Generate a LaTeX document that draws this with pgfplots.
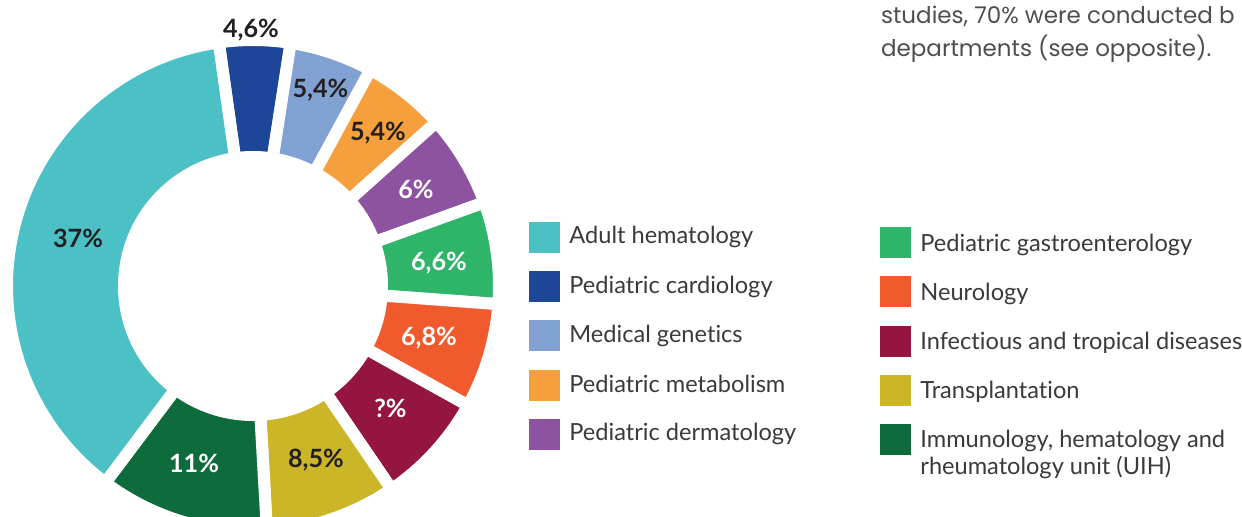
\documentclass[border=0pt]{standalone}
\usepackage{pgfplots}
\pgfplotsset{compat=1.18}
\usepackage{pgfplotstable}
\usepackage{fontspec}
\setmainfont{Lato}[Ligatures={NoCommon}]
\newfontfamily\topfont{Poppins}[Ligatures={NoCommon}]
\definecolor{c0}{HTML}{1D4598}% Pediatric cardiology
\definecolor{c1}{HTML}{82A1D3}% Medical genetics
\definecolor{c2}{HTML}{F69F3D}% Pediatric metabolism
\definecolor{c3}{HTML}{8D53A1}% Pediatric dermatology
\definecolor{c4}{HTML}{2EB56A}% Pediatric gastroenterology
\definecolor{c5}{HTML}{F15A2C}% Neurology
\definecolor{c6}{HTML}{94153F}% Infectious and tropical diseases
\definecolor{c7}{HTML}{CBB628}% Transplantation
\definecolor{c8}{HTML}{0D6B3C}% UIH
\definecolor{c9}{HTML}{4BC1C6}% Adult hematology
\definecolor{txt}{HTML}{3A3A3A}
\definecolor{lab}{HTML}{231F20}
% shares in percent, clockwise from the top ("?%")
\pgfplotstableread{
value
4.6
5.4
5.4
6
6.6
6.8
7.3
8.5
11
37
}\donut
\begin{document}
\begin{tikzpicture}
\begin{axis}[
  scale only axis, width=621pt, height=258pt,
  xmin=0, xmax=1242, ymin=0, ymax=516,
  hide axis, clip=true,
]
\pgfmathsetmacro\total{98.6}
\pgfmathsetmacro\k{360/\total}
\pgfmathsetmacro\cum{0}
\pgfplotsinvokeforeach{0,...,9}{%
  \pgfplotstablegetelem{#1}{value}\of\donut
  \pgfmathsetmacro\aS{98-\cum*\k}
  \pgfmathsetmacro\cum{\cum+\pgfplotsretval}
  \pgfmathsetmacro\aE{98-\cum*\k}
  \addplot[fill=c#1, draw=white, line width=6pt, line join=round,
    domain=0:2.2, samples=221, variable=\t]
  ({253+(\t<1.1 ? 246 : 129)*cos(\t<1.1 ? \aS+(\aE-\aS)*min(\t,1) : \aE-(\aE-\aS)*min(max(\t-1.2,0),1))},
   {230+(\t<1.1 ? 246 : 129)*sin(\t<1.1 ? \aS+(\aE-\aS)*min(\t,1) : \aE-(\aE-\aS)*min(max(\t-1.2,0),1))}) -- cycle;
}
% value labels
\begin{scope}[every node/.style={font=\fontsize{12.6}{15}\selectfont\bfseries, anchor=base, inner sep=0pt}]
\node[text=lab]   at (axis cs:251,516-37)  {4,6\%};
\node[text=lab]   at (axis cs:320.5,516-97) {5,4\%};
\node[text=lab]   at (axis cs:378,516-140) {5,4\%};
\node[text=white] at (axis cs:416,516-198) {6\%};
\node[text=white] at (axis cs:439,516-270) {6,6\%};
\node[text=white] at (axis cs:429,516-345) {6,8\%};
\node[text=white] at (axis cs:390.5,516-417) {?\%};
\node[text=lab]   at (axis cs:316,516-467) {8,5\%};
\node[text=white] at (axis cs:194,516-472) {11\%};
\node[text=lab]   at (axis cs:78,516-247)  {37\%};
\end{scope}
% legend
\begin{scope}[every node/.style={font=\fontsize{11.8}{14}\selectfont, text=txt, anchor=base west, inner sep=0pt}]
\fill[c9] (axis cs:529,516-222) rectangle (axis cs:560,516-253);
\fill[c0] (axis cs:529,516-271) rectangle (axis cs:560,516-302);
\fill[c1] (axis cs:529,516-320) rectangle (axis cs:560,516-351);
\fill[c2] (axis cs:529,516-370) rectangle (axis cs:560,516-401);
\fill[c3] (axis cs:529,516-419) rectangle (axis cs:560,516-450);
\node at (axis cs:569,516-243.3) {Adult hematology};
\node at (axis cs:569,516-293.3) {Pediatric cardiology};
\node at (axis cs:569,516-342.7) {Medical genetics};
\node at (axis cs:569,516-392.3) {Pediatric metabolism};
\node at (axis cs:569,516-440.7) {Pediatric dermatology};
\fill[c4] (axis cs:880,516-226.7) rectangle (axis cs:911,516-257.7);
\fill[c5] (axis cs:880,516-276) rectangle (axis cs:911,516-306.7);
\fill[c6] (axis cs:880,516-326) rectangle (axis cs:911,516-356.7);
\fill[c7] (axis cs:880,516-375) rectangle (axis cs:911,516-405.7);
\fill[c8] (axis cs:880,516-424) rectangle (axis cs:911,516-455);
\node at (axis cs:920,516-251.7) {Pediatric gastroenterology};
\node at (axis cs:920,516-300) {Neurology};
\node at (axis cs:920,516-349) {Infectious and tropical diseases};
\node at (axis cs:920,516-398.3) {Transplantation};
\node at (axis cs:920,516-447.3) {Immunology, hematology and};
\node at (axis cs:920,516-474) {rheumatology unit (UIH)};
\end{scope}
\begin{scope}[every node/.style={font=\topfont\fontsize{11.5}{14}\selectfont, text=txt!90, anchor=base west, inner sep=0pt}]
\node at (axis cs:880.7,516-23.3) {studies, 70\% were conducted b};
\node at (axis cs:880.7,516-56) {departments (see opposite).};
\end{scope}
\end{axis}
\pgfresetboundingbox
\path (0,0) rectangle (621pt,258pt);
\end{tikzpicture}
\end{document}
